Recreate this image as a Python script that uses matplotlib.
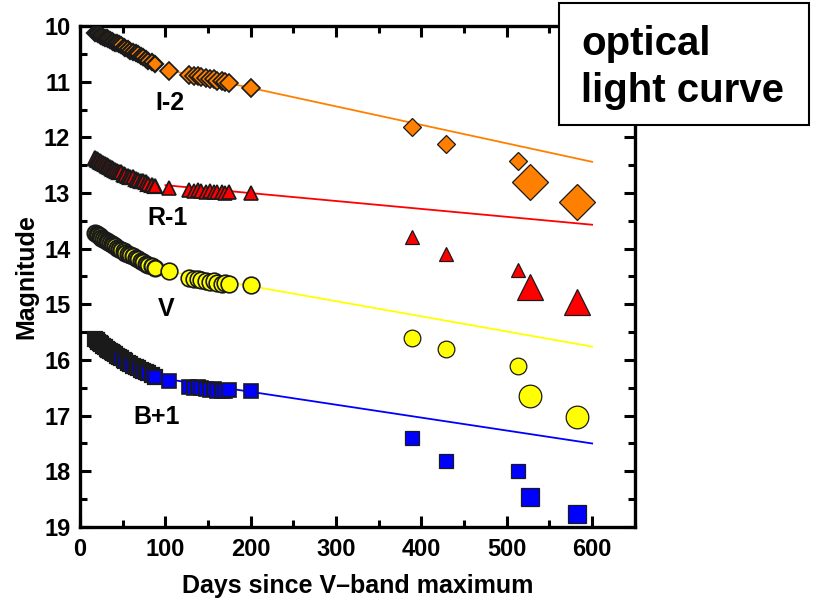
import matplotlib
matplotlib.use("Agg")
import matplotlib.pyplot as plt
from matplotlib.patches import Rectangle
from matplotlib.ticker import MultipleLocator

plt.rcParams['font.family'] = ['Liberation Sans', 'DejaVu Sans']
plt.rcParams['font.weight'] = 'bold'

# Epochs (days since V-band maximum)
days_early = [18, 20, 21, 23, 25, 27, 29, 31, 33, 35, 37, 39, 41, 43, 46, 48,
              51, 53, 56, 59, 62, 65, 68, 71, 74, 77, 80, 84, 88]
days_mid = [104, 128, 133, 138, 142, 147, 152, 157, 161, 166, 170, 175, 200]
days_late_small = [389, 429, 513]
days_late_large = [527, 582]

# I-2 band
i_early = [10.12, 10.13, 10.15, 10.16, 10.18, 10.19, 10.21, 10.22, 10.24, 10.25,
           10.27, 10.28, 10.30, 10.31, 10.33, 10.35, 10.37, 10.39, 10.41, 10.44,
           10.46, 10.49, 10.51, 10.54, 10.56, 10.59, 10.62, 10.65, 10.69]
i_mid = [10.81, 10.88, 10.90, 10.89, 10.92, 10.94, 10.96, 10.95, 10.98, 10.99,
         11.00, 11.02, 11.12]
i_late_small = [11.82, 12.12, 12.42]
i_late_large = [12.81, 13.17]

# R-1 band
r_early = [12.37, 12.39, 12.40, 12.42, 12.44, 12.46, 12.48, 12.50, 12.51, 12.53,
           12.55, 12.56, 12.58, 12.60, 12.62, 12.63, 12.65, 12.67, 12.69, 12.71,
           12.72, 12.74, 12.76, 12.78, 12.79, 12.81, 12.83, 12.85, 12.87]
r_mid = [12.91, 12.95, 12.96, 12.95, 12.97, 12.98, 12.97, 12.99, 12.99, 12.98,
         13.00, 12.99, 13.00]
r_late_small = [13.79, 14.09, 14.39]
r_late_large = [14.68, 14.96]

# V band
v_early = [13.72, 13.74, 13.76, 13.78, 13.80, 13.82, 13.84, 13.86, 13.88, 13.90,
           13.92, 13.94, 13.96, 13.98, 14.00, 14.02, 14.05, 14.07, 14.09, 14.12,
           14.14, 14.17, 14.19, 14.22, 14.24, 14.27, 14.29, 14.32, 14.35]
v_mid = [14.41, 14.53, 14.55, 14.54, 14.57, 14.58, 14.60, 14.59, 14.62, 14.63,
         14.62, 14.64, 14.66]
v_late_small = [15.61, 15.81, 16.11]
v_late_large = [16.65, 17.02]

# B+1 band
b_early = [15.62, 15.65, 15.67, 15.70, 15.72, 15.75, 15.77, 15.80, 15.82, 15.84,
           15.86, 15.88, 15.90, 15.92, 15.95, 15.97, 16.00, 16.02, 16.05, 16.08,
           16.10, 16.13, 16.15, 16.18, 16.20, 16.22, 16.24, 16.27, 16.30]
b_mid = [16.38, 16.48, 16.50, 16.49, 16.51, 16.52, 16.54, 16.53, 16.55, 16.56,
         16.55, 16.54, 16.56]
b_late_small = [17.40, 17.81, 18.00]
b_late_large = [18.47, 18.77]

# Linear decline fits, evaluated at the ends of the fitted range
fit_days = [100, 600]
i_fit = [10.78, 12.44]
r_fit = [12.86, 13.57]
v_fit = [14.40, 15.76]
b_fit = [16.34, 17.50]

band_labels = ["I-2", "R-1", "V", "B+1"]
label_pos = [(105, 11.39), (103, 13.45), (101, 15.09), (90, 17.02)]

fig = plt.figure(figsize=(8.17, 6.05), dpi=100)
ax = fig.add_axes([0.098, 0.129, 0.679, 0.828])

edge = "#1a1a1a"
bands = [
    # early, mid, late small, late large, fit, colour, marker, sizes(early, small, large)
    (i_early, i_mid, i_late_small, i_late_large, i_fit, "#ff8000", "D", (8.6, 8.8, 18.0)),
    (r_early, r_mid, r_late_small, r_late_large, r_fit, "#ff0000", "^", (10.0, 9.8, 18.5)),
    (v_early, v_mid, v_late_small, v_late_large, v_fit, "#ffff00", "o", (11.5, 12.0, 16.3)),
    (b_early, b_mid, b_late_small, b_late_large, b_fit, "#0000ff", "s", (10.5, 10.5, 13.0)),
]

for early, mid, ls, ll, fit, col, mk, (s_e, s_s, s_l) in bands:
    ax.plot(fit_days, fit, color=col, lw=1.3, zorder=2)
    ax.plot(days_early, early, ls="none", marker=mk, ms=s_e, mfc=col,
            mec=edge, mew=1.6, zorder=3)
    ax.plot(days_mid, mid, ls="none", marker=mk, ms=s_s, mfc=col,
            mec=edge, mew=1.2, zorder=3)
    ax.plot(days_late_small, ls, ls="none", marker=mk, ms=s_s, mfc=col,
            mec=edge, mew=0.9, zorder=3)
    ax.plot(days_late_large, ll, ls="none", marker=mk, ms=s_l, mfc=col,
            mec=edge, mew=0.9, zorder=3)

for lab, (x, y) in zip(band_labels, label_pos):
    ax.text(x, y, lab, fontsize=18, fontweight="bold", ha="center", va="center")

ax.set_xlim(0, 650)
ax.set_ylim(19, 10)
ax.xaxis.set_major_locator(MultipleLocator(100))
ax.xaxis.set_minor_locator(MultipleLocator(50))
ax.yaxis.set_major_locator(MultipleLocator(1))
ax.yaxis.set_minor_locator(MultipleLocator(0.5))
ax.set_xticks([0, 100, 200, 300, 400, 500, 600])

for sp in ax.spines.values():
    sp.set_linewidth(2.4)
ax.tick_params(which="both", direction="in", top=True, right=True, width=2.2)
ax.tick_params(which="major", length=8)
ax.tick_params(which="minor", length=5)
ax.tick_params(axis="x", which="major", labelsize=17, pad=8)
ax.tick_params(axis="y", which="major", labelsize=17, pad=7)
for t in ax.get_xticklabels() + ax.get_yticklabels():
    t.set_fontweight("bold")

ax.set_xlabel("Days since V\u2013band maximum", fontsize=18, fontweight="bold", labelpad=9)
ax.set_ylabel("Magnitude", fontsize=18, fontweight="bold", labelpad=4)

# Title box in the upper right corner
box = Rectangle((0.684, 0.793), 0.306, 0.202, transform=fig.transFigure,
                facecolor="white", edgecolor="black", lw=1.5, zorder=5)
fig.patches.append(box)
fig.text(0.711, 0.909, "optical", fontsize=29, fontweight="bold",
         ha="left", va="baseline", zorder=6)
fig.text(0.711, 0.831, "light curve", fontsize=29, fontweight="bold",
         ha="left", va="baseline", zorder=6)

fig.savefig("out.png", dpi=100)
